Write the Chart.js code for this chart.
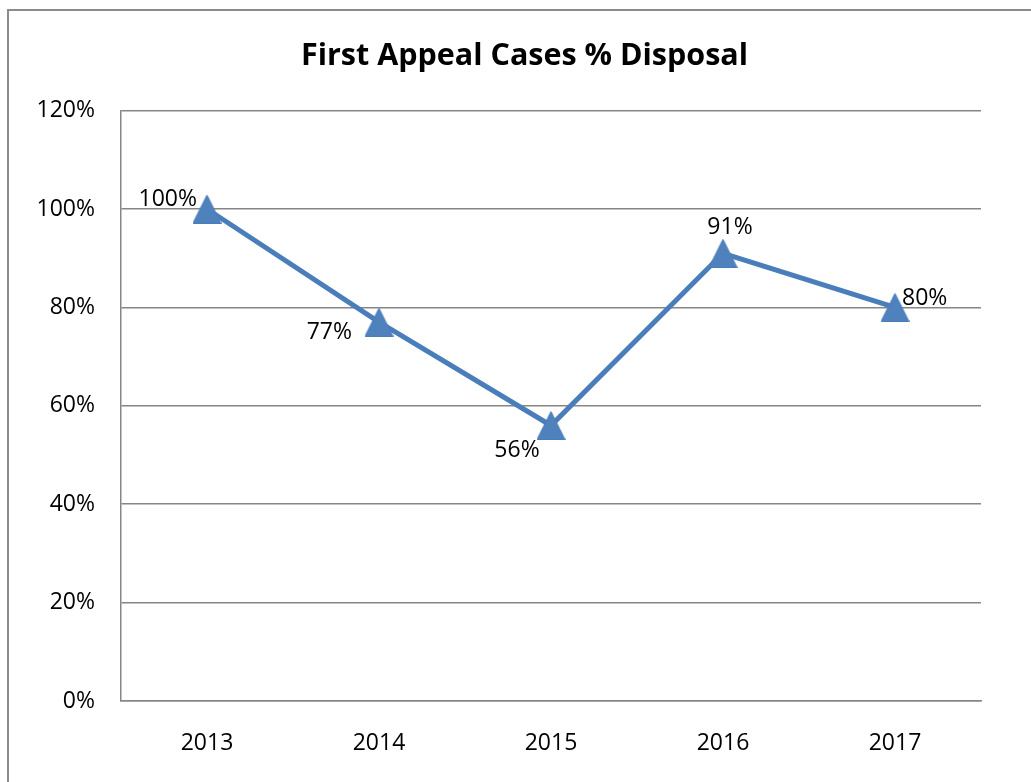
<!DOCTYPE html>
<html>
<head>
<meta charset="utf-8">
<script src="https://cdn.jsdelivr.net/npm/chart.js@4"></script>
<style>
html,body{margin:0;padding:0;background:#fff;}
canvas{display:block;}
</style>
</head>
<body>
<canvas id="c" width="1031" height="782"></canvas>
<script>
const categories = ['2013', '2014', '2015', '2016', '2017'];
const disposalPct = [1.00, 0.77, 0.56, 0.91, 0.80];
const yTicks = [0, 0.2, 0.4, 0.6, 0.8, 1.0, 1.2];
const chartTitle = 'First Appeal Cases % Disposal';

const FONT = "'Open Sans', 'Liberation Sans', sans-serif";
const labelPlacement = ['left', 'left', 'below', 'above', 'right'];

// Excel-style triangle marker: bounding box centred on the data point
function makeTriangle(size) {
  const cv = document.createElement('canvas');
  cv.width = size; cv.height = size;
  const g = cv.getContext('2d');
  g.beginPath();
  g.moveTo(size / 2, 0.5);
  g.lineTo(size - 0.5, size - 0.5);
  g.lineTo(0.5, size - 0.5);
  g.closePath();
  g.fillStyle = '#4f81bd';
  g.fill();
  g.strokeStyle = '#4a7ebb';
  g.lineWidth = 1;
  g.stroke();
  return cv;
}
const triangleMarker = makeTriangle(29);

const frame = {
  id: 'frame',
  afterLayout(chart) {
    // centre the title on the outer chart frame (which extends past the right edge)
    if (chart.titleBlock) chart.titleBlock.left += 68;
  },
  beforeDraw(chart) {
    const ctx = chart.ctx;
    ctx.save();
    ctx.fillStyle = '#fff';
    ctx.fillRect(0, 0, chart.width, chart.height);
    ctx.strokeStyle = '#8c8c8c';
    ctx.lineWidth = 2;
    ctx.beginPath();
    ctx.moveTo(8, chart.height);
    ctx.lineTo(8, 10);
    ctx.lineTo(chart.width, 10);
    ctx.stroke();
    ctx.restore();
  }
};

const dataLabels = {
  id: 'dataLabels',
  afterDatasetsDraw(chart) {
    const ctx = chart.ctx;
    const meta = chart.getDatasetMeta(0);
    ctx.save();
    ctx.font = "23px " + FONT;
    ctx.fillStyle = '#000';
    meta.data.forEach((pt, i) => {
      const txt = Math.round(disposalPct[i] * 100) + '%';
      const p = labelPlacement[i];
      let x = pt.x, y = pt.y;
      ctx.textBaseline = 'middle';
      if (p === 'left') { ctx.textAlign = 'right'; x -= (i === 0 ? 10 : 27); y += (i === 0 ? -10 : 10); }
      else if (p === 'right') { ctx.textAlign = 'left'; x += 7; y -= 9; }
      else if (p === 'above') { ctx.textAlign = 'center'; x += 7; y -= 26; }
      else { ctx.textAlign = 'center'; x -= 34; y += 25; }
      ctx.fillText(txt, x, y);
    });
    ctx.restore();
  }
};

new Chart(document.getElementById('c'), {
  type: 'line',
  data: {
    labels: categories,
    datasets: [{
      data: disposalPct,
      borderColor: '#4a7ebb',
      backgroundColor: '#4f81bd',
      borderWidth: 5,
      pointStyle: triangleMarker,
      pointRadius: 15,
      pointHoverRadius: 15,
      tension: 0,
      fill: false
    }]
  },
  options: {
    responsive: false,
    animation: false,
    events: [],
    layout: { padding: { left: 0, right: 50, top: 38, bottom: 0 } },
    plugins: {
      legend: { display: false },
      tooltip: { enabled: false },
      title: {
        display: true,
        text: chartTitle,
        color: '#000',
        font: { family: FONT, size: 30.5, weight: 'bold', lineHeight: 1.2 },
        padding: { top: 0, bottom: 36 }
      }
    },
    scales: {
      x: {
        offset: true,
        grid: { display: false, drawTicks: false },
        border: { display: true, color: '#868686', width: 1.5 },
        ticks: { color: '#000', font: { family: FONT, size: 23 }, padding: 29, maxRotation: 0 },
        afterFit(s) { s.height = 81; }
      },
      y: {
        min: 0,
        max: 1.2,
        afterBuildTicks(s) { s.ticks = yTicks.map(v => ({ value: v })); },
        grid: { color: '#868686', lineWidth: 1.5, drawTicks: false },
        border: { display: true, color: '#868686', width: 1.5 },
        ticks: {
          color: '#000',
          font: { family: FONT, size: 23 },
          padding: 26,
          callback: v => Math.round(v * 100) + '%'
        },
        afterFit(s) { s.width = 121; }
      }
    }
  },
  plugins: [frame, dataLabels]
});
</script>
</body>
</html>
